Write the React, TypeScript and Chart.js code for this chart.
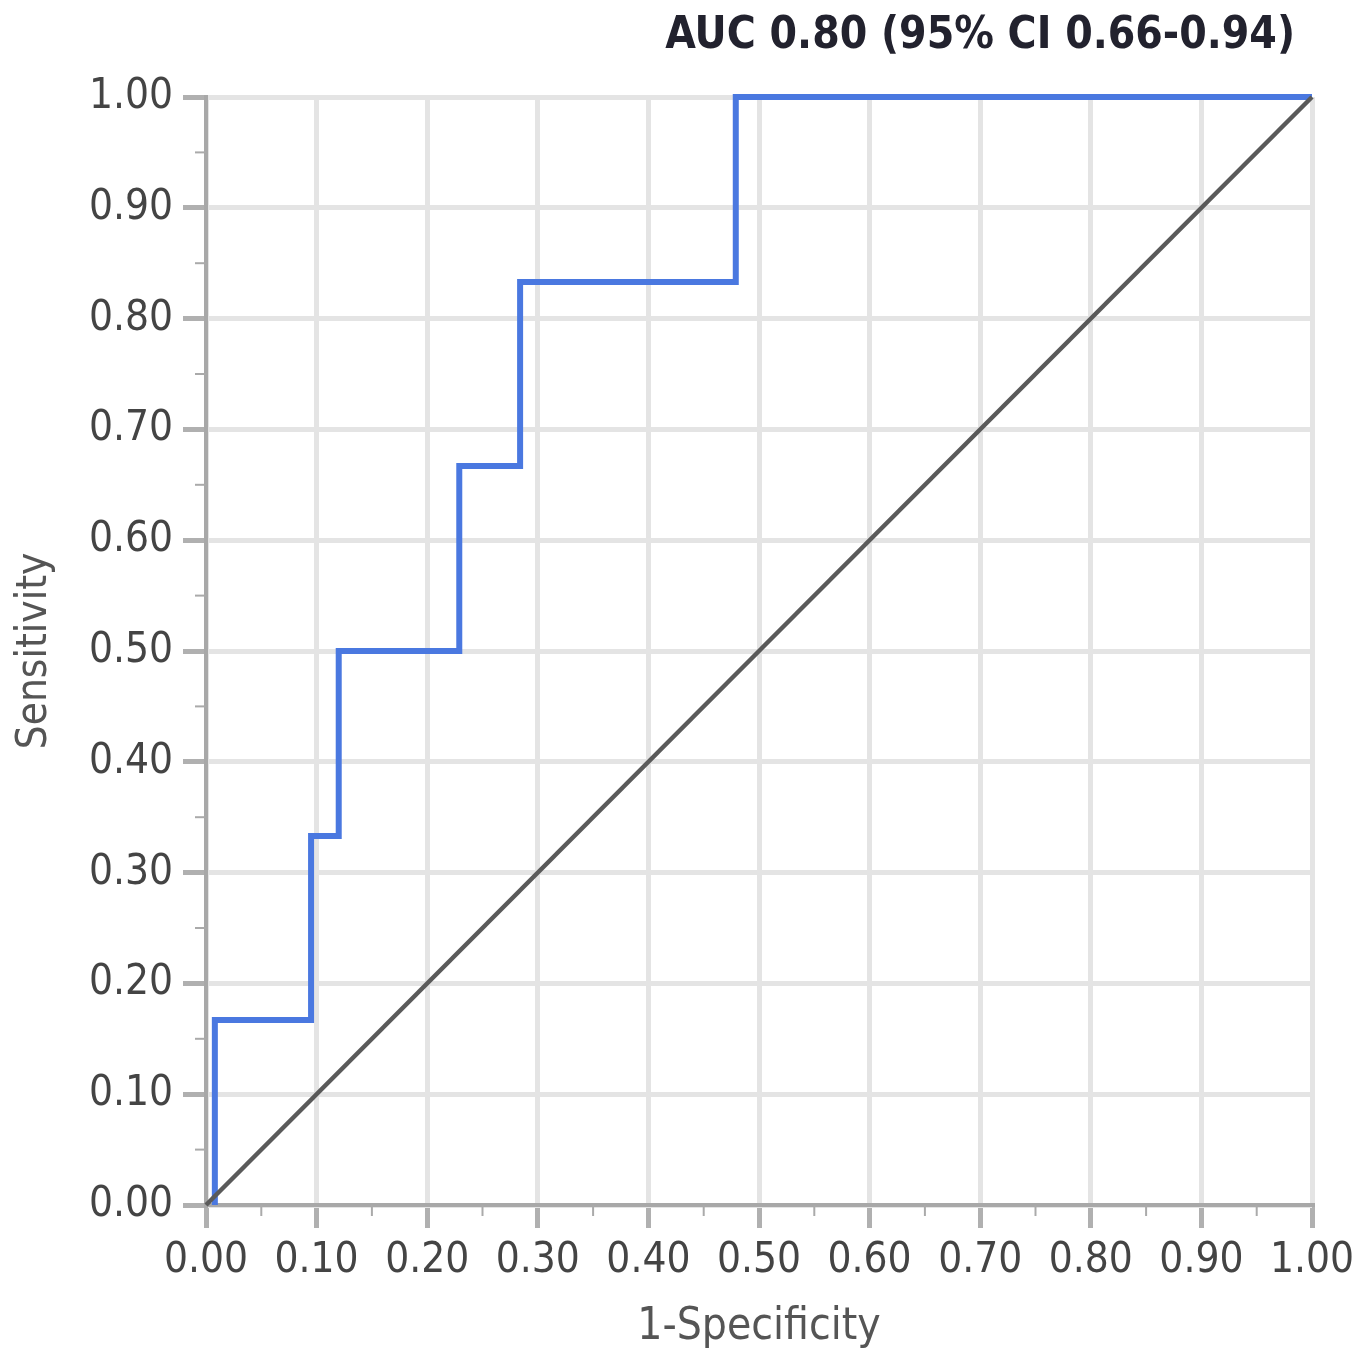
import React, { useEffect, useRef } from "react";
import { Chart, registerables } from "chart.js";

Chart.register(...registerables);

// ROC curve operating points (1-Specificity, Sensitivity)
const rocFpr = [0.008, 0.095, 0.12, 0.229, 0.284, 0.479, 1.0];
const rocTpr = [0.0, 0.167, 0.333, 0.5, 0.667, 0.833, 1.0];
// Reference (chance) line
const refFpr = [0, 1];
const refTpr = [0, 1];
const majorTicks = [0, 0.1, 0.2, 0.3, 0.4, 0.5, 0.6, 0.7, 0.8, 0.9, 1.0];
const minorTicks = [0.05, 0.15, 0.25, 0.35, 0.45, 0.55, 0.65, 0.75, 0.85, 0.95];
const titleText = "AUC 0.80 (95% CI 0.66-0.94)";
const xTitle = "1-Specificity";
const yTitle = "Sensitivity";

const FONT = "'DejaVu Sans Condensed', 'DejaVu Sans', sans-serif";

export default function App() {
  const ref = useRef<HTMLCanvasElement | null>(null);

  useEffect(() => {
    document.body.style.margin = "0";
    const canvas = ref.current;
    if (!canvas) return;

    const extras = {
      id: "extras",
      afterDraw(chart: any) {
        const ctx = chart.ctx;
        const xs = chart.scales.x;
        const ys = chart.scales.y;
        const area = chart.chartArea;
        ctx.save();
        ctx.strokeStyle = "#aaaaaa";
        ctx.lineWidth = 2;
        for (const v of minorTicks) {
          const px = xs.getPixelForValue(v);
          ctx.beginPath();
          ctx.moveTo(px, area.bottom);
          ctx.lineTo(px, area.bottom + 11);
          ctx.stroke();
          const py = ys.getPixelForValue(v);
          ctx.beginPath();
          ctx.moveTo(area.left, py);
          ctx.lineTo(area.left - 11, py);
          ctx.stroke();
        }
        ctx.fillStyle = "#22222e";
        ctx.font = `bold 44px ${FONT}`;
        ctx.textAlign = "right";
        ctx.textBaseline = "middle";
        ctx.fillText(titleText, 1295, 37);
        ctx.restore();
      },
    };

    const chart = new Chart(canvas, {
      type: "scatter",
      data: {
        datasets: [
          {
            label: "Reference",
            data: refFpr.map((x, i) => ({ x, y: refTpr[i] })),
            showLine: true,
            borderColor: "#5a5a5a",
            borderWidth: 4.5,
            pointRadius: 0,
            fill: false,
            clip: false,
          },
          {
            label: "ROC",
            data: rocFpr.map((x, i) => ({ x, y: rocTpr[i] })),
            showLine: true,
            stepped: "after",
            borderColor: "#4a78e0",
            borderWidth: 6,
            pointRadius: 0,
            fill: false,
            clip: false,
          },
        ],
      },
      options: {
        responsive: false,
        animation: false,
        devicePixelRatio: 1,
        layout: { padding: { top: 97, right: 56, left: 0, bottom: 0 } },
        plugins: {
          legend: { display: false },
          tooltip: { enabled: false },
          title: { display: false },
        },
        scales: {
          x: {
            type: "linear",
            min: 0,
            max: 1,
            afterBuildTicks: (scale: any) => {
              scale.ticks = majorTicks.map((v) => ({ value: v }));
            },
            afterFit: (scale: any) => {
              scale.height = 152;
            },
            ticks: {
              callback: (v: any) => Number(v).toFixed(2),
              color: "#444444",
              font: { family: FONT, size: 42 },
              padding: 8,
              maxRotation: 0,
              autoSkip: false,
            },
            grid: {
              color: "#e4e4e4",
              lineWidth: 5,
              tickColor: "#b0b0b0",
              tickLength: 23,
            },
            border: { color: "#a8a8a8", width: 4 },
            title: {
              display: true,
              text: xTitle,
              color: "#555555",
              font: { family: FONT, size: 44 },
              padding: { top: 0, bottom: 3 },
            },
          },
          y: {
            type: "linear",
            min: 0,
            max: 1,
            afterBuildTicks: (scale: any) => {
              scale.ticks = majorTicks.map((v) => ({ value: v }));
            },
            afterFit: (scale: any) => {
              scale.width = 206;
            },
            ticks: {
              callback: (v: any) => Number(v).toFixed(2),
              color: "#444444",
              font: { family: FONT, size: 42 },
              padding: 10,
              autoSkip: false,
            },
            grid: {
              color: "#e4e4e4",
              lineWidth: 5,
              tickColor: "#b0b0b0",
              tickLength: 23,
            },
            border: { color: "#a8a8a8", width: 4 },
            title: {
              display: true,
              text: yTitle,
              color: "#555555",
              font: { family: FONT, size: 42 },
              padding: { top: 10, bottom: 0 },
            },
          },
        },
      },
      plugins: [extras],
    } as any);

    return () => chart.destroy();
  }, []);

  return (
    <div style={{ width: 1368, height: 1357 }}>
      <canvas ref={ref} width={1368} height={1357} style={{ display: "block", width: 1368, height: 1357 }} />
    </div>
  );
}
